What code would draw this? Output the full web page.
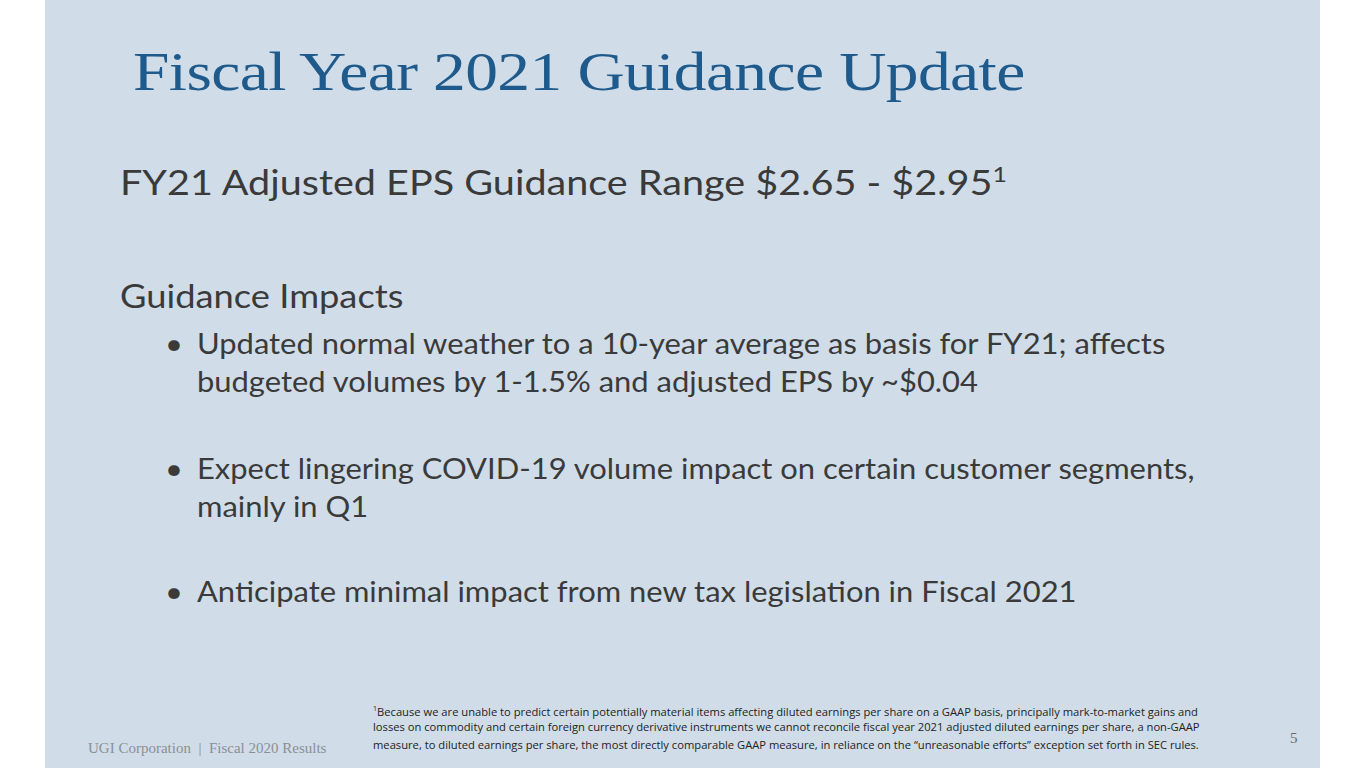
<!DOCTYPE html>
<html><head><meta charset="utf-8">
<script src="https://cdn.jsdelivr.net/npm/chart.js@4"></script>
<style>
html,body{margin:0;padding:0;width:1365px;height:768px;background:#fff;overflow:hidden}
#panel{position:absolute;left:45px;top:0;width:1275px;height:768px;background:#d0dde8}
.t{position:absolute;white-space:nowrap;transform-origin:left top}
#title{left:133px;top:40px;font-family:"Liberation Serif","DejaVu Serif",serif;font-size:55px;color:#1f5a8c;letter-spacing:-0.5px;transform:scaleX(1.19)}
.body{font-family:Lato,"Open Sans",sans-serif;color:#3a3a3a}
#sub{left:120px;top:160px;font-size:35px;transform:scaleX(1.13)}
#imp{left:120px;top:275px;font-size:33px;transform:scaleX(1.1)}
.b{font-size:28.5px;line-height:38px;transform:scaleX(1.085)}
.fn{font-family:"Open Sans",sans-serif;font-size:11.2px;color:#222;line-height:16px}
#foot{left:88px;top:740px;font-family:"Liberation Serif",serif;font-size:15px;color:#8a8f96;white-space:pre}
#pg{left:1290px;top:730px;font-family:"Liberation Serif",serif;font-size:15px;color:#666}
</style></head><body>
<div id="panel"></div>
<div id="root"></div>
<script>
const titleText="Fiscal Year 2021 Guidance Update";
const subtitleText="FY21 Adjusted EPS Guidance Range $2.65 - $2.95";
const impactsHeading="Guidance Impacts";
const bullets=[
 ["Updated normal weather to a 10-year average as basis for FY21; affects","budgeted volumes by 1-1.5% and adjusted EPS by ~$0.04"],
 ["Expect lingering COVID-19 volume impact on certain customer segments,","mainly in Q1"],
 ["Anticipate minimal impact from new tax legislation in Fiscal 2021"]
];
const bulletTops=[324,449,572];
const footnoteLines=[
 "Because we are unable to predict certain potentially material items affecting diluted earnings per share on a GAAP basis, principally mark-to-market gains and",
 "losses on commodity and certain foreign currency derivative instruments we cannot reconcile fiscal year 2021 adjusted diluted earnings per share, a non-GAAP",
 "measure, to diluted earnings per share, the most directly comparable GAAP measure, in reliance on the \u201cunreasonable efforts\u201d exception set forth in SEC rules."
];
const footerText="UGI Corporation  |  Fiscal 2020 Results";
const pageNum="5";
const root=document.getElementById('root');
function add(id,cls,text,style){const d=document.createElement('div');d.className='t '+cls;if(id)d.id=id;d.textContent=text;if(style)Object.assign(d.style,style);root.appendChild(d);return d;}
add('title','',titleText);
const s=add('sub','body',subtitleText);const sup=document.createElement('sup');sup.textContent='1';sup.style.fontSize='22px';s.appendChild(sup);
add('imp','body',impactsHeading);
bullets.forEach((b,i)=>{
 add(null,'body b','\u2022',{left:'165px',top:bulletTops[i]+'px'});
 b.forEach((ln,j)=>add(null,'body b',ln,{left:'197px',top:(bulletTops[i]+j*38)+'px'}));
});
footnoteLines.forEach((ln,i)=>{
 const d=add(null,'fn',ln,{left:'373px',top:(701+i*18)+'px'});
 if(i===0){const sp=document.createElement('sup');sp.textContent='1';sp.style.fontSize='7px';d.prepend(sp);}
});
add('foot','',footerText);
add('pg','',pageNum);
</script>
</body></html>
